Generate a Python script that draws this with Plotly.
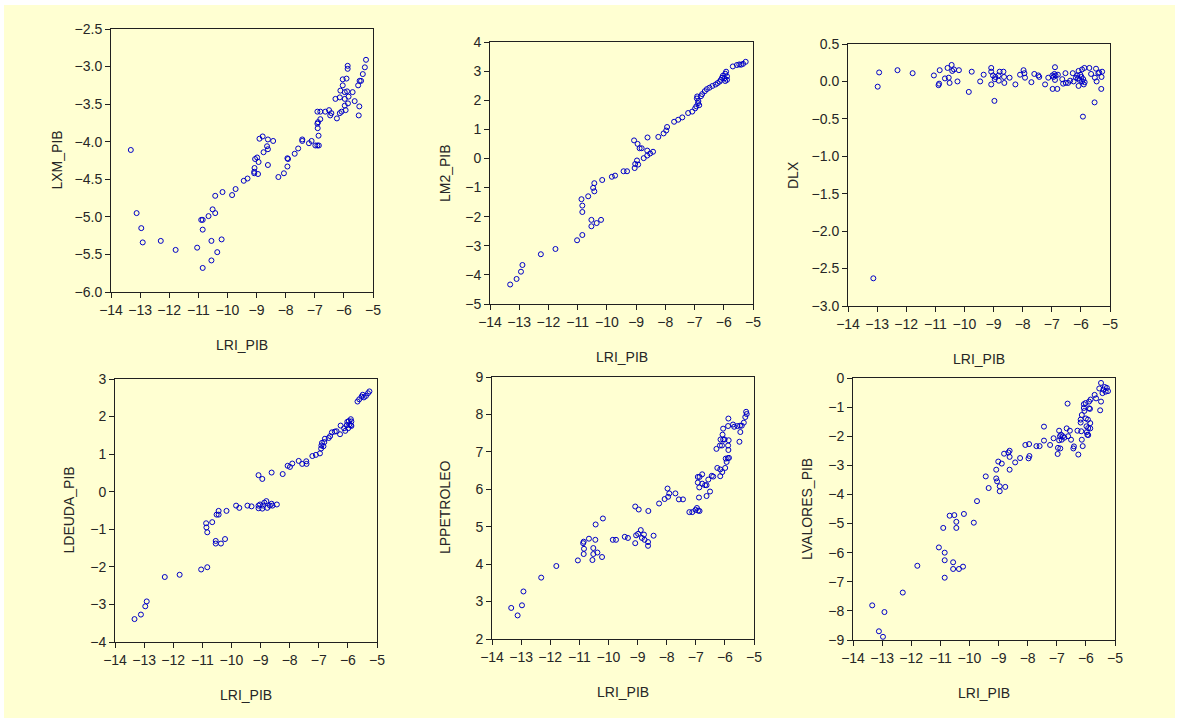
import plotly.graph_objects as go

# ---------------- data ----------------
lxm_x = [-13.32,-13.12,-12.96,-12.91,-12.29,-11.78,-11.04,-10.85,-10.85,-10.9,-10.85,-10.65,-10.51,-10.42,
         -10.42,-10.55,-10.55,-10.35,-10.20,-10.17,-9.84,-9.72,-9.44,-9.31,-9.08,-9.08,-9.07,-9.05,-8.98,
         -8.93,-8.95,-8.90,-8.79,-8.76,-8.64,-8.61,-8.61,-8.61,-8.43,-8.25,-8.06,-7.94,-7.94,-7.92,-7.69,
         -7.57,-7.43,-7.43,-7.20,-7.11,-6.98,-6.91,-6.86,-6.87,-6.90,-6.91,-6.89,-6.81,-6.91,-6.81,-6.64,
         -6.51,-6.43,-6.47,-6.29,-6.24,-6.14,-6.14,-6.08,-6.12,-6.04,-6.04,-5.97,-5.97,-5.97,-5.94,-5.91,
         -5.87,-5.87,-5.89,-5.86,-5.84,-5.70,-5.63,-5.51,-5.46,-5.41,-5.47,-5.49,-5.35,-5.28,-5.24]
lxm_y = [-4.11,-4.95,-5.15,-5.34,-5.32,-5.44,-5.41,-5.68,-5.04,-5.04,-5.17,-4.99,-4.90,-4.95,
         -4.72,-5.32,-5.58,-5.47,-5.30,-4.67,-4.71,-4.63,-4.52,-4.49,-4.42,-4.40,-4.35,-4.23,-4.21,
         -4.27,-4.43,-3.96,-3.93,-4.14,-4.06,-4.10,-4.31,-3.97,-3.99,-4.47,-4.42,-4.33,-4.22,-4.23,-4.16,
         -4.09,-3.97,-3.99,-4.02,-3.99,-4.05,-4.05,-4.05,-3.92,-3.82,-3.76,-3.74,-3.70,-3.60,-3.60,-3.60,
         -3.58,-3.62,-3.65,-3.43,-3.69,-3.41,-3.62,-3.60,-3.32,-3.25,-3.17,-3.34,-3.43,-3.52,-3.58,-3.16,
         -2.99,-3.03,-3.33,-3.49,-3.40,-3.34,-3.46,-3.25,-3.19,-3.19,-3.53,-3.65,-3.10,-3.01,-2.91]

lm2_x = [-13.31,-13.09,-12.94,-12.89,-12.26,-11.76,-11.02,-10.84,-10.87,-10.84,-10.84,-10.64,-10.53,-10.53,
         -10.35,-10.20,-10.47,-10.43,-10.43,-10.16,-9.83,-9.72,-9.43,-9.31,-9.05,-9.03,-8.97,-8.93,-9.07,
         -8.95,-8.88,-8.81,-8.74,-8.62,-8.62,-8.61,-8.52,-8.42,-8.24,-8.06,-7.97,-7.94,-7.70,-7.56,-7.42,
         -7.22,-7.08,-6.98,-6.94,-6.92,-6.91,-6.88,-6.87,-6.84,-6.78,-6.74,-6.65,-6.58,-6.49,-6.39,-6.28,
         -6.21,-6.14,-6.10,-6.06,-6.03,-5.98,-5.95,-5.92,-5.89,-5.89,-5.95,-5.69,-5.55,-5.47,-5.41,-5.34,-5.25]
lm2_y = [-4.33,-4.14,-3.89,-3.66,-3.29,-3.11,-2.81,-2.63,-1.40,-1.62,-1.84,-1.30,-2.11,-2.33,
         -2.22,-2.11,-1.01,-0.85,-1.13,-0.74,-0.63,-0.59,-0.44,-0.44,-0.33,-0.19,-0.07,-0.21,0.62,
         0.50,0.35,0.35,0.01,0.10,0.27,0.72,0.17,0.23,0.74,0.86,0.96,1.08,1.26,1.33,1.41,
         1.56,1.61,1.72,1.79,2.06,2.13,1.90,1.97,1.83,2.14,2.21,2.31,2.38,2.43,2.49,2.54,
         2.59,2.64,2.70,2.77,2.84,2.75,2.91,2.98,2.82,2.70,2.66,3.16,3.21,3.23,3.22,3.25,3.32]

dlx_x = [-12.93,-12.98,-13.13,-12.30,-11.78,-11.05,-10.89,-10.87,-10.85,-10.67,-10.58,-10.54,-10.51,-10.44,
         -10.42,-10.36,-10.19,-10.24,-9.85,-9.75,-9.46,-9.34,-9.08,-9.08,-9.08,-9.02,-8.97,-8.94,-8.96,
         -8.83,-8.79,-8.82,-8.66,-8.64,-8.63,-8.45,-8.25,-8.09,-7.97,-7.94,-7.92,-7.70,-7.60,-7.46,-7.43,
         -7.23,-7.12,-6.98,-6.97,-6.94,-6.91,-6.89,-6.89,-6.87,-6.81,-6.79,-6.64,-6.61,-6.53,-6.52,-6.44,
         -6.37,-6.28,-6.25,-6.17,-6.13,-6.10,-6.08,-6.08,-6.05,-6.02,-5.98,-5.96,-5.96,-5.93,-5.92,-5.90,
         -5.88,-5.87,-5.71,-5.65,-5.53,-5.48,-5.52,-5.46,-5.40,-5.37,-5.29,-5.30,-5.27]
dlx_y = [0.12,-0.07,-2.63,0.15,0.11,0.08,-0.05,-0.03,0.15,0.04,0.18,0.05,-0.02,0.22,
         0.14,0.16,0.15,0.00,-0.14,0.13,0.00,0.09,0.18,0.13,-0.04,0.08,-0.26,0.06,0.03,
         0.08,0.13,0.01,0.13,0.06,-0.02,0.05,-0.04,0.09,0.15,0.11,0.05,-0.01,0.10,0.08,0.06,
         -0.04,0.05,0.08,-0.10,0.06,0.10,0.19,0.02,0.08,-0.10,0.09,0.03,-0.03,0.11,-0.02,-0.02,
         0.01,0.11,0.00,0.05,0.08,0.04,0.14,-0.06,0.02,0.09,0.06,0.16,0.00,-0.47,0.03,-0.04,
         0.18,-0.01,0.18,0.10,-0.28,0.17,0.05,0.00,0.11,0.12,0.06,-0.10,0.13]

ldeuda_x = [-13.33,-13.11,-12.96,-12.91,-12.29,-11.78,-11.04,-10.83,-10.87,-10.86,-10.83,-10.66,-10.54,-10.54,
            -10.36,-10.22,-10.51,-10.44,-10.44,-10.17,-9.84,-9.73,-9.45,-9.31,-9.07,-9.07,-9.02,-8.94,-8.91,
            -8.87,-8.80,-8.77,-8.68,-8.62,-8.59,-8.44,-9.07,-8.94,-8.62,-8.24,-8.07,-7.99,-7.91,-7.69,-7.57,
            -7.43,-7.42,-7.22,-7.10,-6.96,-6.92,-6.91,-6.89,-6.84,-6.81,-6.79,-6.66,-6.61,-6.55,-6.45,-6.39,
            -6.27,-6.25,-6.13,-6.09,-6.04,-6.02,-5.99,-5.97,-5.95,-5.90,-5.90,-5.88,-5.88,-5.67,-5.61,-5.53,
            -5.49,-5.45,-5.38,-5.31,-5.26]
ldeuda_y = [-3.39,-3.27,-3.05,-2.92,-2.27,-2.21,-2.07,-2.01,-0.84,-0.95,-1.08,-0.81,-1.31,-1.38,
            -1.38,-1.26,-0.61,-0.51,-0.61,-0.51,-0.37,-0.43,-0.37,-0.39,-0.37,-0.44,-0.34,-0.45,-0.37,
            -0.29,-0.25,-0.43,-0.37,-0.32,-0.37,-0.34,0.44,0.34,0.51,0.47,0.69,0.66,0.75,0.82,0.74,
            0.81,0.74,0.95,0.98,1.02,1.15,1.23,1.30,1.21,1.32,1.41,1.43,1.48,1.58,1.60,1.61,
            1.53,1.76,1.69,1.62,1.77,1.86,1.69,1.88,1.79,1.93,1.77,1.87,1.75,2.40,2.46,2.53,
            2.58,2.51,2.55,2.62,2.67]

lpp_x = [-13.34,-13.12,-12.97,-12.92,-12.31,-11.79,-11.05,-10.87,-10.85,-10.84,-10.85,-10.67,-10.55,-10.52,
         -10.52,-10.45,-10.38,-10.22,-10.44,-10.19,-9.85,-9.74,-9.44,-9.33,-9.08,-8.96,-9.08,-9.05,-8.98,
         -8.89,-8.85,-8.78,-8.76,-8.64,-8.64,-8.45,-8.63,-8.26,-8.07,-7.97,-7.95,-7.91,-7.70,-7.58,-7.44,
         -7.22,-7.12,-7.01,-6.96,-6.92,-6.87,-6.93,-6.93,-6.88,-6.87,-6.89,-6.78,-6.78,-6.68,-6.63,-6.57,
         -6.63,-6.51,-6.45,-6.40,-6.26,-6.29,-6.16,-6.16,-6.17,-6.15,-6.10,-6.09,-6.06,-6.06,-6.08,-6.01,
         -5.99,-5.97,-5.94,-5.90,-5.89,-5.87,-5.86,-5.88,-5.89,-5.88,-5.72,-5.68,-5.57,-5.50,-5.47,-5.48,
         -5.42,-5.35,-5.30,-5.25,-5.27]
lpp_y = [2.83,2.63,2.90,3.27,3.64,3.95,4.10,4.56,4.60,4.41,4.27,4.68,4.11,4.43,
         4.27,4.65,4.31,4.19,5.06,5.22,4.65,4.65,4.73,4.70,5.54,5.46,4.56,4.77,4.81,
         4.91,4.70,4.79,4.65,4.59,4.49,4.76,5.42,5.62,5.74,6.02,5.80,5.89,5.89,5.73,5.73,
         5.39,5.39,5.45,5.50,5.43,5.42,6.18,6.33,6.05,6.33,5.78,6.40,6.15,6.11,6.11,6.26,
         5.82,5.94,6.36,6.34,6.57,7.08,6.35,6.53,7.17,7.33,7.17,6.46,7.33,7.62,7.46,7.33,
         6.57,6.82,6.73,6.83,7.17,7.31,6.84,7.05,7.69,7.89,7.73,7.67,7.69,7.27,7.53,7.70,
         7.70,7.78,7.93,8.01,8.07]

lval_x = [-13.34,-13.11,-12.97,-12.92,-12.29,-11.79,-11.05,-10.90,-10.85,-10.85,-10.85,-10.68,-10.56,-10.56,
          -10.52,-10.45,-10.45,-10.36,-10.22,-10.19,-9.85,-9.74,-9.44,-9.34,-9.08,-9.08,-9.05,-9.01,-8.96,
          -8.96,-8.89,-8.81,-8.77,-8.66,-8.62,-8.62,-8.62,-8.43,-8.26,-8.08,-7.97,-7.94,-7.95,-7.70,-7.59,
          -7.44,-7.44,-7.23,-7.11,-6.97,-6.96,-6.92,-6.92,-6.89,-6.88,-6.85,-6.83,-6.79,-6.74,-6.66,-6.63,
          -6.61,-6.55,-6.51,-6.43,-6.41,-6.29,-6.26,-6.18,-6.18,-6.16,-6.14,-6.14,-6.11,-6.07,-6.07,-6.05,
          -6.01,-6.00,-5.98,-5.97,-5.95,-5.93,-5.92,-5.92,-5.89,-5.89,-5.85,-5.85,-5.84,-5.86,-5.70,-5.65,
          -5.54,-5.51,-5.48,-5.48,-5.43,-5.40,-5.35,-5.32,-5.28,-5.24]
lval_y = [-7.81,-8.70,-8.89,-8.04,-7.37,-6.45,-5.82,-5.15,-6.00,-6.26,-6.86,-4.73,-6.33,-6.56,
          -4.71,-4.94,-5.15,-6.56,-6.48,-4.67,-4.97,-4.23,-3.38,-3.78,-3.15,-3.45,-3.55,-2.87,-3.72,
          -3.89,-2.94,-2.60,-3.74,-2.56,-2.50,-2.71,-3.15,-2.90,-2.75,-2.30,-2.76,-2.68,-2.27,-2.34,-2.34,
          -1.67,-2.15,-2.30,-2.07,-2.61,-2.40,-1.81,-2.14,-2.00,-2.42,-1.95,-2.12,-2.00,-2.05,-1.73,-0.88,
          -2.00,-1.81,-2.12,-2.42,-2.35,-1.81,-2.63,-1.43,-1.53,-1.83,-2.12,-1.27,-2.34,-0.90,-1.03,-1.13,
          -0.86,-1.39,-1.66,-1.86,-1.95,-1.43,-1.72,-1.96,-0.81,-1.04,-1.55,-1.73,-0.74,-1.06,-0.58,-0.70,
          -0.36,-1.11,-0.17,-0.81,-0.52,-0.40,-0.31,-0.47,-0.34,-0.45]

x_title = "LRI_PIB"
y_titles = ["LXM_PIB", "LM2_PIB", "DLX", "LDEUDA_PIB", "LPPETROLEO", "LVALORES_PIB"]
y_ranges = [[-6.0, -2.5], [-5, 4], [-3.0, 0.5], [-4, 3], [2, 9], [-9, 0]]
y_dticks = [0.5, 1, 0.5, 1, 1, 1]
y_formats = [".1f", "d", ".1f", "d", "d", "d"]
x_range = [-14, -5]

series = [(lxm_x, lxm_y), (lm2_x, lm2_y), (dlx_x, dlx_y),
          (ldeuda_x, ldeuda_y), (lpp_x, lpp_y), (lval_x, lval_y)]

# ---------------- layout (pixel boxes of the plot areas) ----------------
W, H = 1179, 721
boxes = [(111, 373, 29, 292), (490, 753, 42, 304), (848, 1110, 44, 306),
         (115, 377, 379, 642), (492, 754, 377, 639), (853, 1115, 378, 640)]
ytitle_off = [55, 45, 55, 47, 47, 46]

BG = "#FFFFD2"
MARK = "#0000C8"
FONT = "Liberation Sans, Arial, sans-serif"
TXT = "#262626"

fig = go.Figure()
annotations = []
for i, ((xs, ys), (l, r, t, b)) in enumerate(zip(series, boxes)):
    n = i + 1
    xa = "x" if n == 1 else f"x{n}"
    ya = "y" if n == 1 else f"y{n}"
    fig.add_trace(go.Scatter(
        x=xs, y=ys, mode="markers", xaxis=xa, yaxis=ya, showlegend=False,
        marker=dict(symbol="circle-open", size=5, color=MARK, line=dict(width=1, color=MARK)),
        hoverinfo="x+y"))
    common = dict(showgrid=False, zeroline=False, showline=True, linecolor="#202020",
                  linewidth=1, mirror=True, ticks="outside", ticklen=5, tickwidth=1,
                  tickcolor="#202020", automargin=False,
                  tickfont=dict(family=FONT, size=14, color=TXT))
    fig.layout[f"xaxis{'' if n == 1 else n}"] = dict(
        common, domain=[l / W, r / W], anchor=ya, range=x_range, dtick=1, tick0=-14)
    fig.layout[f"yaxis{'' if n == 1 else n}"] = dict(
        common, domain=[1 - b / H, 1 - t / H], anchor=xa, range=y_ranges[i],
        dtick=y_dticks[i], tickformat=y_formats[i])
    annotations.append(dict(
        text=x_title, xref="paper", yref="paper", x=(l + r) / 2 / W, y=1 - (b + 53) / H,
        xanchor="center", yanchor="middle", showarrow=False,
        font=dict(family=FONT, size=14, color=TXT)))
    annotations.append(dict(
        text=y_titles[i], xref="paper", yref="paper", x=(l - ytitle_off[i]) / W,
        y=1 - (t + b) / 2 / H, xanchor="center", yanchor="middle", textangle=-90,
        showarrow=False, font=dict(family=FONT, size=14, color=TXT)))

fig.update_layout(
    width=W, height=H, margin=dict(l=0, r=0, t=0, b=0, pad=0, autoexpand=False),
    paper_bgcolor="white", plot_bgcolor="white",
    annotations=annotations,
    shapes=[dict(type="rect", xref="paper", yref="paper", x0=4 / W, x1=1 - 4 / W,
                 y0=3 / H, y1=1 - 5 / H, fillcolor=BG, line=dict(width=0), layer="below")],
)

fig.write_html("out.html", config={"displayModeBar": False},
               post_script="document.body.style.margin='0';document.body.style.overflow='hidden';")
